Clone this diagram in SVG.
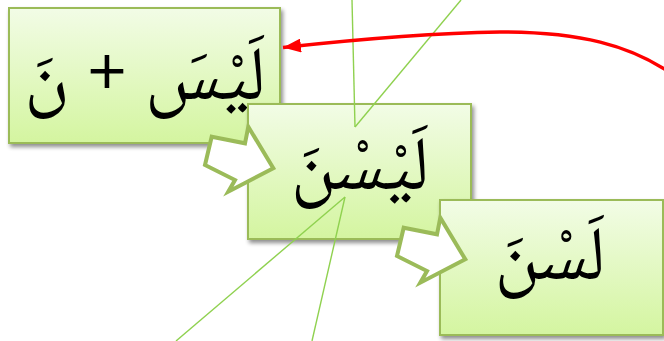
<svg xmlns="http://www.w3.org/2000/svg" width="664" height="341" viewBox="0 0 664 341">
<defs>
<linearGradient id="g" x1="0" y1="0" x2="0" y2="1">
<stop offset="0" stop-color="#f2fce6"/>
<stop offset="1" stop-color="#d4f5a0"/>
</linearGradient>
<filter id="sh" x="-10%" y="-10%" width="125%" height="130%">
<feGaussianBlur in="SourceAlpha" stdDeviation="2"/>
<feOffset dx="2" dy="3" result="b"/>
<feComponentTransfer><feFuncA type="linear" slope="0.45"/></feComponentTransfer>
<feMerge><feMergeNode/><feMergeNode in="SourceGraphic"/></feMerge>
</filter>
<marker id="ah" viewBox="0 0 18 14" refX="18" refY="7" markerWidth="18" markerHeight="14" markerUnits="userSpaceOnUse" orient="auto">
<path d="M0,0 L18,7 L0,14 Z" fill="#ff0000"/>
</marker>
<polygon id="blk" points="211.7,136.7 245,143.3 248.3,126.7 273.3,168.3 228.3,191.7 235,180 205,165"/>
</defs>
<style>
.box{fill:url(#g);stroke:#9bbb59;stroke-width:2;filter:url(#sh)}
.t{font-family:'Noto Naskh Arabic','Noto Sans Arabic','DejaVu Sans',serif;font-size:76px;fill:#000;text-anchor:middle;direction:rtl}
.blk{fill:#fff;stroke:#9bbb59;stroke-width:4;stroke-linejoin:miter}
.thin{stroke:#8fd14f;stroke-width:1.4;fill:none}
.red{stroke:#ff0000;stroke-width:3.5;fill:none}
</style>
<g id="node1">
<rect class="box" x="9" y="8" width="271" height="135"/>
<text class="t" x="145" y="99" direction="rtl">لَيْسَ + نَ</text>
</g>
<g id="node2">
<rect class="box" x="248" y="104" width="223" height="135"/>
<text class="t" x="360" y="189" direction="rtl">لَيْسْنَ</text>
</g>
<g id="node3">
<rect class="box" x="440" y="200" width="223" height="135"/>
<text class="t" x="550" y="279" direction="rtl">لَسْنَ</text>
</g>
<g id="connectors">
<use href="#blk" class="blk"/>
<use href="#blk" class="blk" transform="translate(192,91)"/>
<line class="thin" x1="352" y1="0" x2="355" y2="127"/>
<line class="thin" x1="461" y1="0" x2="355" y2="127"/>
<line class="thin" x1="345" y1="197" x2="176" y2="341"/>
<line class="thin" x1="345" y1="197" x2="312" y2="341"/>
<path class="red" d="M672,74 C630,45 580,32 500,32 C430,33 360,39 283,47.5" marker-end="url(#ah)"/>
</g>
</svg>
